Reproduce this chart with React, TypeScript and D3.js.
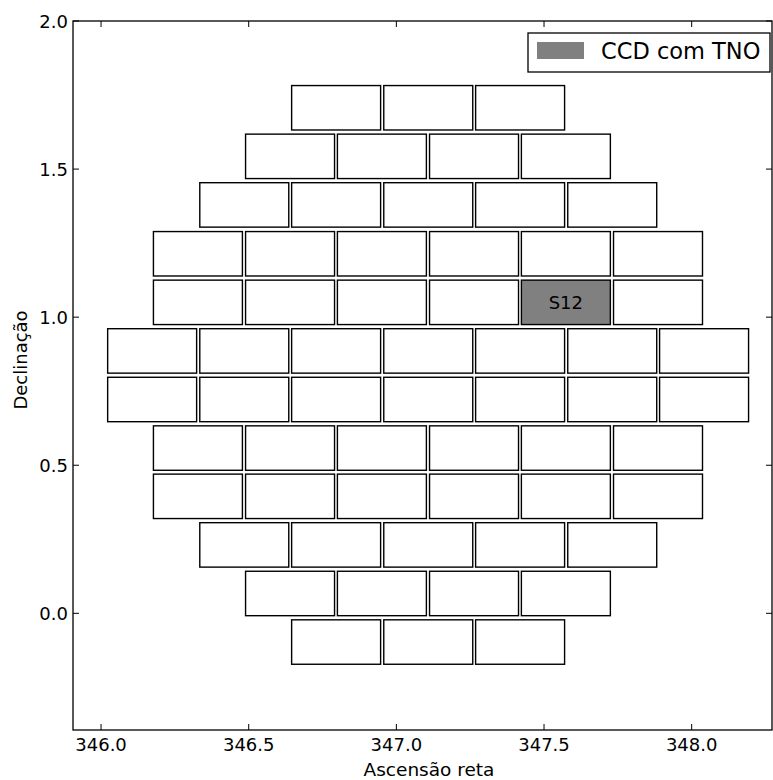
import React, { useRef, useEffect } from 'react';
import * as d3 from 'd3';

// RA centres of the CCD columns (full 7-wide rows and the half-shifted 6-wide rows)
const raFull = [346.173, 346.485, 346.796, 347.108, 347.419, 347.731, 348.042];
const raHalf = [346.328, 346.640, 346.951, 347.263, 347.574, 347.886];

// each row: declination of centre, which column set, first and last column index
const rowDec = [1.707, 1.543, 1.379, 1.214, 1.05, 0.886, 0.722, 0.558, 0.395, 0.231, 0.067, -0.097];
const rowSet = ['full', 'half', 'full', 'half', 'half', 'full', 'full', 'half', 'half', 'full', 'half', 'full'];
const rowFrom = [2, 1, 1, 0, 0, 0, 0, 0, 0, 1, 1, 2];
const rowTo = [5, 5, 6, 6, 6, 7, 7, 6, 6, 6, 5, 5];

const ccdW = 0.3013;
const ccdH = 0.15;

const tnoCcd = { ra: 347.574, dec: 1.05, label: 'S12' };

const xTicks = [346.0, 346.5, 347.0, 347.5, 348.0];
const yTicks = [0.0, 0.5, 1.0, 1.5, 2.0];

const W = 773;
const H = 780;
const margin = { left: 73, right: 1, top: 21, bottom: 50 };
const font = 'DejaVu Sans, sans-serif';

const App = () => {
  const svgRef = useRef<SVGSVGElement>(null);

  useEffect(() => {
    const svg = d3.select(svgRef.current);
    svg.selectAll('*').remove();

    const x = d3.scaleLinear().domain([345.905, 348.272]).range([margin.left, W - margin.right]);
    const y = d3.scaleLinear().domain([-0.394, 2.0]).range([H - margin.bottom, margin.top]);

    const ccds: { ra: number; dec: number }[] = [];
    rowDec.forEach((dec, i) => {
      const cols = rowSet[i] === 'full' ? raFull : raHalf;
      cols.slice(rowFrom[i], rowTo[i]).forEach(ra => ccds.push({ ra, dec }));
    });

    const pw = x(ccdW) - x(0);
    const ph = y(0) - y(ccdH);

    svg.append('g')
      .selectAll('rect')
      .data(ccds)
      .enter()
      .append('rect')
      .attr('x', d => x(d.ra - ccdW / 2))
      .attr('y', d => y(d.dec + ccdH / 2))
      .attr('width', pw)
      .attr('height', ph)
      .attr('fill', d => (d.ra === tnoCcd.ra && d.dec === tnoCcd.dec ? '#808080' : '#fff'))
      .attr('stroke', '#000')
      .attr('stroke-width', 1.4);

    svg.append('text')
      .attr('x', x(tnoCcd.ra))
      .attr('y', y(tnoCcd.dec))
      .attr('text-anchor', 'middle')
      .attr('dominant-baseline', 'central')
      .attr('font-family', font)
      .attr('font-size', 18)
      .text(tnoCcd.label);

    const x0 = margin.left, x1 = W - margin.right, y0 = margin.top, y1 = H - margin.bottom;
    const tl = 6;

    // ticks, inward on all four sides
    const ticks = svg.append('g').attr('stroke', '#000').attr('stroke-width', 1);
    xTicks.forEach(t => {
      ticks.append('line').attr('x1', x(t)).attr('x2', x(t)).attr('y1', y1).attr('y2', y1 - tl);
      ticks.append('line').attr('x1', x(t)).attr('x2', x(t)).attr('y1', y0).attr('y2', y0 + tl);
    });
    yTicks.forEach(t => {
      ticks.append('line').attr('x1', x0).attr('x2', x0 + tl).attr('y1', y(t)).attr('y2', y(t));
      ticks.append('line').attr('x1', x1).attr('x2', x1 - tl).attr('y1', y(t)).attr('y2', y(t));
    });

    svg.append('rect')
      .attr('x', x0).attr('y', y0).attr('width', x1 - x0).attr('height', y1 - y0)
      .attr('fill', 'none').attr('stroke', '#000').attr('stroke-width', 1.3);

    svg.append('g')
      .selectAll('text')
      .data(xTicks)
      .enter()
      .append('text')
      .attr('x', d => x(d))
      .attr('y', y1 + 21)
      .attr('text-anchor', 'middle')
      .attr('font-family', font)
      .attr('font-size', 18)
      .text(d => d.toFixed(1));

    svg.append('g')
      .selectAll('text')
      .data(yTicks)
      .enter()
      .append('text')
      .attr('x', x0 - 5)
      .attr('y', d => y(d))
      .attr('text-anchor', 'end')
      .attr('dominant-baseline', 'central')
      .attr('font-family', font)
      .attr('font-size', 18)
      .text(d => d.toFixed(1));

    svg.append('text')
      .attr('x', 429)
      .attr('y', H - 4)
      .attr('text-anchor', 'middle')
      .attr('font-family', font)
      .attr('font-size', 18.5)
      .text('Ascensão reta');

    svg.append('text')
      .attr('transform', `translate(27, 360) rotate(-90)`)
      .attr('text-anchor', 'middle')
      .attr('font-family', font)
      .attr('font-size', 18)
      .text('Declinação');

    // legend
    const lg = svg.append('g');
    lg.append('rect').attr('x', 528).attr('y', 33).attr('width', 242).attr('height', 39)
      .attr('fill', '#fff').attr('stroke', '#000').attr('stroke-width', 1.3);
    lg.append('rect').attr('x', 537).attr('y', 42).attr('width', 47).attr('height', 17)
      .attr('fill', '#808080');
    lg.append('text').attr('x', 601).attr('y', 59)
      .attr('font-family', font).attr('font-size', 22.5).text('CCD com TNO');
  }, []);

  return (
    <svg ref={svgRef} width={W} height={H} style={{ position: 'absolute', left: 0, top: 0 }}></svg>
  );
};

export default App;
